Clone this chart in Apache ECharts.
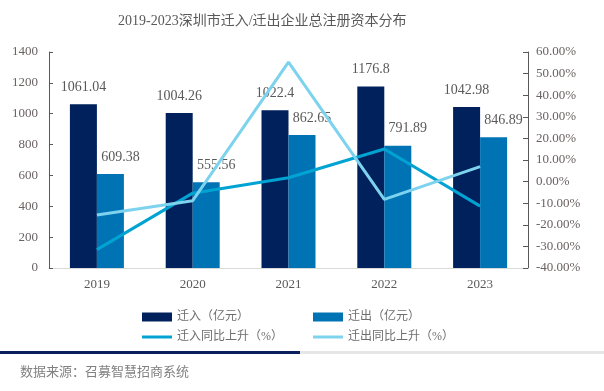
<!DOCTYPE html>
<html>
<head>
<meta charset="utf-8">
<script src="https://cdn.jsdelivr.net/npm/echarts@6/dist/echarts.min.js"></script>
<style>
html,body{margin:0;padding:0;background:#fff;}
#chart{width:604px;height:391px;}
</style>
</head>
<body>
<div id="chart"></div>
<script>
const categories = ['2019', '2020', '2021', '2022', '2023'];
const inflowValues = [1061.04, 1004.26, 1022.4, 1176.8, 1042.98];
const outflowValues = [609.38, 555.56, 862.65, 791.89, 846.89];
const inflowGrowth = [-31.5, -5.35, 1.81, 15.10, -11.37];
const outflowGrowth = [-15.5, -8.83, 55.27, -8.20, 6.95];
const leftTicks = [0, 200, 400, 600, 800, 1000, 1200, 1400];
const rightTicks = [-40, -30, -20, -10, 0, 10, 20, 30, 40, 50, 60];

const FONT = "'Liberation Serif', 'Noto Sans CJK SC', serif";
const TXT = '#595959';
const C_IN = '#00215B';
const C_OUT = '#0073B5';
const C_INL = '#00A3D2';
const C_OUTL = '#7DD3EE';

const chart = echarts.init(document.getElementById('chart'), null, {renderer: 'canvas'});

function legendAt(name, left, top, isLine) {
  return {
    data: [{name: name, icon: 'rect'}],
    left: left, top: top, padding: 0,
    itemWidth: 30, itemHeight: isLine ? 3 : 9, itemGap: 0,
    textStyle: {color: '#6e6e6e', fontSize: 12, fontFamily: FONT}
  };
}

const option = {
  backgroundColor: '#fff',
  animation: false,
  title: {
    text: '2019-2023深圳市迁入/迁出企业总注册资本分布',
    left: 113, top: 9,
    textStyle: {color: TXT, fontSize: 14, fontWeight: 'normal', fontFamily: FONT}
  },
  legend: [
    legendAt('迁入（亿元）', 142, 311, false),
    legendAt('迁出（亿元）', 313, 311, false),
    legendAt('迁入同比上升（%）', 142, 331, true),
    legendAt('迁出同比上升（%）', 313, 331, true)
  ],
  grid: {left: 49, right: 76, top: 52, bottom: 123},
  xAxis: {
    type: 'category',
    data: categories,
    axisLine: {show: true, lineStyle: {color: '#d9d9d9', width: 1}},
    axisTick: {show: false},
    axisLabel: {color: TXT, fontSize: 13, fontFamily: FONT, margin: 10}
  },
  yAxis: [
    {
      type: 'value', min: leftTicks[0], max: leftTicks[leftTicks.length - 1],
      interval: leftTicks[1] - leftTicks[0],
      axisLine: {show: true, lineStyle: {color: '#595959', width: 1}},
      axisTick: {show: true, inside: true, length: 4, lineStyle: {color: '#595959'}},
      axisLabel: {color: '#6b6262', fontSize: 13, fontFamily: FONT, margin: 11,
        formatter: v => String(v)},
      splitLine: {show: false}
    },
    {
      type: 'value', position: 'right',
      min: rightTicks[0], max: rightTicks[rightTicks.length - 1],
      interval: rightTicks[1] - rightTicks[0],
      axisLine: {show: true, lineStyle: {color: '#595959', width: 1}},
      axisTick: {show: true, inside: true, length: 5, lineStyle: {color: '#595959'}},
      axisLabel: {color: '#6b6262', fontSize: 13, fontFamily: FONT, margin: 8,
        formatter: v => v.toFixed(2) + '%'},
      splitLine: {show: false}
    }
  ],
  series: [
    {
      name: '迁入（亿元）', type: 'bar', data: inflowValues,
      barWidth: 27, barGap: '0%',
      itemStyle: {color: C_IN},
      label: {show: true, position: 'top', distance: 10, color: TXT, fontSize: 14, fontFamily: FONT}
    },
    {
      name: '迁出（亿元）', type: 'bar', data: outflowValues,
      barWidth: 27, barGap: '0%',
      itemStyle: {color: C_OUT},
      label: {show: true, position: 'top', distance: 10, offset: [10, 0], color: TXT, fontSize: 14, fontFamily: FONT}
    },
    {
      name: '迁入同比上升（%）', type: 'line', yAxisIndex: 1, data: inflowGrowth,
      symbol: 'none', lineStyle: {color: C_INL, width: 3}, itemStyle: {color: C_INL}, z: 3
    },
    {
      name: '迁出同比上升（%）', type: 'line', yAxisIndex: 1, data: outflowGrowth,
      symbol: 'none', lineStyle: {color: C_OUTL, width: 3}, itemStyle: {color: C_OUTL}, z: 4
    }
  ],
  graphic: [
    {type: 'rect', left: 0, top: 351, shape: {width: 300, height: 3}, style: {fill: '#0B1F5C'}, silent: true},
    {type: 'rect', left: 300, top: 351, shape: {width: 304, height: 3}, style: {fill: '#e6e6e6'}, silent: true},
    {type: 'text', left: 20, top: 366, style: {text: '数据来源：召募智慧招商系统', fill: '#808080', font: "13px " + FONT}, silent: true}
  ]
};
chart.setOption(option);
</script>
</body>
</html>
